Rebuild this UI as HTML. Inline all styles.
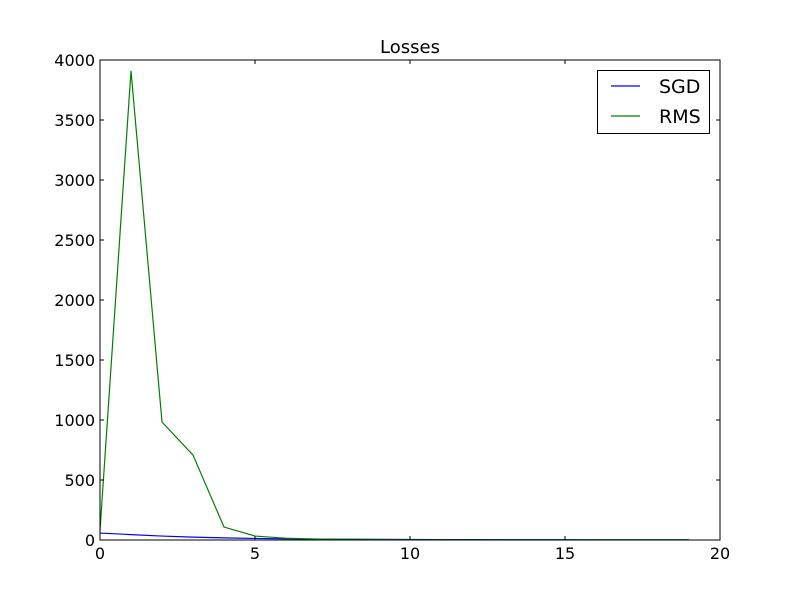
<!DOCTYPE html>
<html><head><meta charset="utf-8"><style>
body{margin:0;background:#fff}
svg text{font-family:"DejaVu Sans","Liberation Sans",sans-serif;fill:#000}
</style></head><body>
<svg id="chart" width="800" height="600">
<rect width="800" height="600" fill="#fff"/>
<g id="plot"></g>
</svg>
<script>
const xTicks=[0,5,10,15,20];
const yTicks=[0,500,1000,1500,2000,2500,3000,3500,4000];
const epochs=[0,1,2,3,4,5,6,7,8,9,10,11,12,13,14,15,16,17,18,19];
const sgd=[58,45,33,24,18,13,10,8,6,5,4,3.5,3,2.5,2,2,1.5,1.5,1,1];
const rms=[80,3910,983,708,108,33,15,8,5,3,2,2,1.5,1,1,1,1,1,1,1];
const L=100,R=720,T=60,B=540;
const xs=v=>L+(v-0)/(20-0)*(R-L);
const ys=v=>B-(v-0)/(4000-0)*(B-T);
const g=document.getElementById('plot');
const NS='http://www.w3.org/2000/svg';
function mk(t,a){const e=document.createElementNS(NS,t);for(const k in a)e.setAttribute(k,a[k]);g.appendChild(e);return e;}
function line(data,color,name){
  const p=mk('polyline',{points:data.map((v,i)=>xs(epochs[i])+','+ys(v)).join(' '),fill:'none',stroke:color,'stroke-width':1.2});
  
  
}
line(sgd,'#0000ff','sgd-line');
line(rms,'#008000','rms-line');
const fr=mk('rect',{x:L,y:T,width:R-L,height:B-T,fill:'none',stroke:'#000','stroke-width':1});


xTicks.forEach(v=>{
  const x=xs(v);
  mk('line',{x1:x,x2:x,y1:B,y2:B-4,stroke:'#000'});
  mk('line',{x1:x,x2:x,y1:T,y2:T+4,stroke:'#000'});
  const t=mk('text',{x:x,y:B+19,'text-anchor':'middle','font-size':16});
  t.textContent=v;
  
  
});
yTicks.forEach(v=>{
  const y=ys(v);
  mk('line',{x1:L,x2:L+4,y1:y,y2:y,stroke:'#000'});
  mk('line',{x1:R,x2:R-4,y1:y,y2:y,stroke:'#000'});
  const t=mk('text',{x:L-5,y:y+6,'text-anchor':'end','font-size':16});
  t.textContent=v;
  
  
});
const ti=mk('text',{x:410,y:53,'text-anchor':'middle','font-size':18});
ti.textContent='Losses';


const lg=mk('rect',{x:597.5,y:70.5,width:112,height:63,fill:'#fff',stroke:'#000'});


[['SGD','#0000ff',86],['RMS','#008000',116]].forEach(([n,c,y])=>{
  mk('line',{x1:611,x2:640,y1:y,y2:y,stroke:c,'stroke-width':1.2});
  const t=mk('text',{x:659,y:y+7,'font-size':19});
  t.textContent=n;
  
  
});
</script>
</body></html>
